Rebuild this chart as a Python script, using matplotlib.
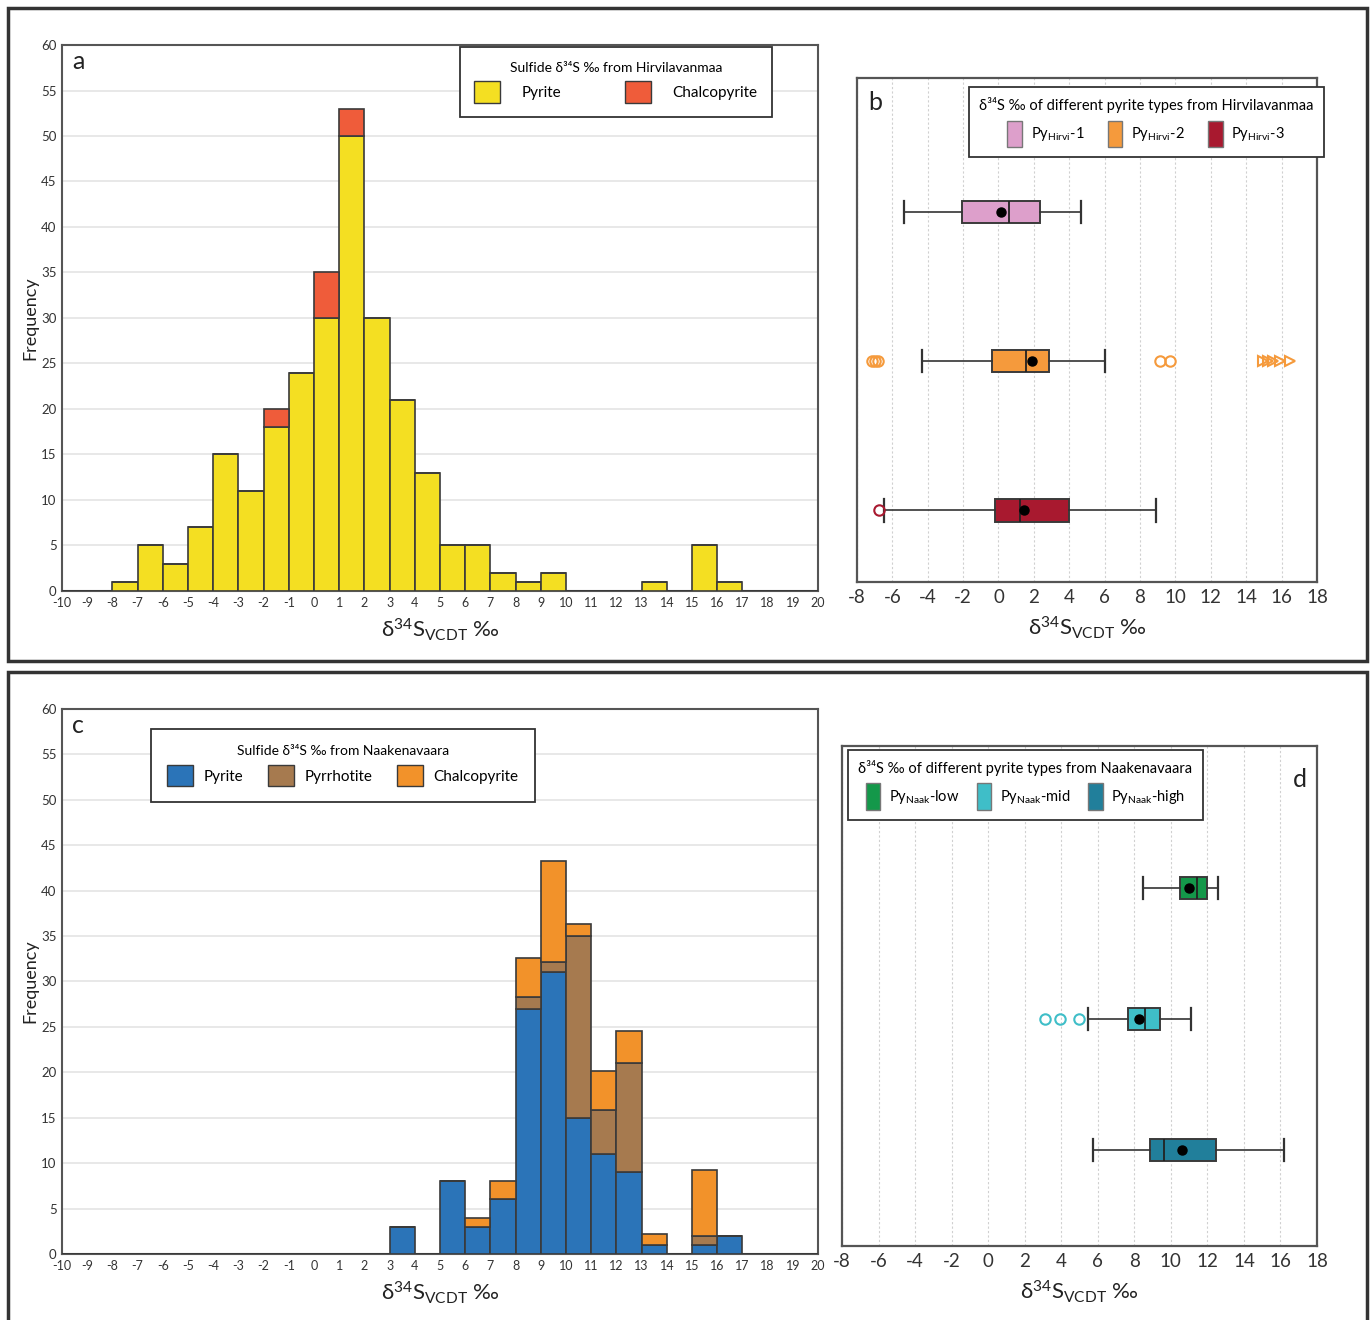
import numpy as np
import matplotlib
matplotlib.use("Agg")
import matplotlib.pyplot as plt
from matplotlib.patches import Patch, Rectangle

plt.rcParams['font.family'] = ['Lato', 'DejaVu Sans']
plt.rcParams['axes.unicode_minus'] = False
plt.rcParams['mathtext.fontset'] = 'custom'
plt.rcParams['mathtext.rm'] = 'Lato'
plt.rcParams['mathtext.it'] = 'Lato:italic'

# ---- histogram data (bin left edges, 1 permil bins) ----
bins = np.arange(-10, 20)

# Hirvilavanmaa (panel a)
pyrite_a = [0, 0, 1, 5, 3, 7, 15, 11, 18, 24, 30, 50, 30, 21, 13, 5, 5, 2, 1, 2,
            0, 0, 0, 1, 0, 5, 1, 0, 0, 0]
chalco_a = [0, 0, 0, 0, 0, 0, 0, 0, 2, 0, 5, 3, 0, 0, 0, 0, 0, 0, 0, 0,
            0, 0, 0, 0, 0, 0, 0, 0, 0, 0]

# Naakenavaara (panel c)
pyrite_c = [0, 0, 0, 0, 0, 0, 0, 0, 0, 0, 0, 0, 0, 3, 0, 8, 3, 6, 27, 31,
            15, 11, 9, 1, 0, 1, 2, 0, 0, 0]
pyrrh_c = [0, 0, 0, 0, 0, 0, 0, 0, 0, 0, 0, 0, 0, 0, 0, 0, 0, 0, 1.3, 1.2,
           20, 4.9, 12, 0, 0, 1, 0, 0, 0, 0]
chalco_c = [0, 0, 0, 0, 0, 0, 0, 0, 0, 0, 0, 0, 0, 0, 0, 0, 1, 2, 4.3, 11.1,
            1.3, 4.3, 3.5, 1.2, 0, 7.3, 0, 0, 0, 0]

# ---- box plot stats (whislo, q1, med, q3, whishi, mean) ----
hirvi_names = ['Py$_{\\mathregular{Hirvi}}$-1', 'Py$_{\\mathregular{Hirvi}}$-2', 'Py$_{\\mathregular{Hirvi}}$-3']
hirvi_stats = [
    [-5.33, -2.07, 0.6, 2.34, 4.66, 0.15],
    [-4.34, -0.35, 1.55, 2.83, 6.01, 1.87],
    [-6.47, -0.2, 1.2, 4.0, 8.92, 1.46],
]
hirvi_fliers = [[], [-7.17, -6.98, -6.79, 9.12, 9.72], [-6.73]]
hirvi2_far = [14.96, 15.25, 15.53, 15.9, 16.46]

naak_names = ['Py$_{\\mathregular{Naak}}$-low', 'Py$_{\\mathregular{Naak}}$-mid', 'Py$_{\\mathregular{Naak}}$-high']
naak_stats = [
    [8.47, 10.49, 11.42, 11.97, 12.57, 10.99],
    [5.47, 7.68, 8.59, 9.43, 11.11, 8.25],
    [5.73, 8.85, 9.6, 12.47, 16.19, 10.59],
]
naak_fliers = [[], [3.11, 3.92, 4.98], []]

hirvi_colors = ['#dd9fcb', '#f59a3c', '#a8192f']
naak_colors = ['#14984a', '#3fbec8', '#217f9b']
EDGE = '#3a3a3a'

fig = plt.figure(figsize=(13.7, 13.2), dpi=100)

# outer frames
fig.patches.append(Rectangle((0.0058, 0.4992), 0.992, 0.4947, transform=fig.transFigure,
                             fill=False, lw=2.5, ec='#333333'))
fig.patches.append(Rectangle((0.0058, -0.02), 0.992, 0.511, transform=fig.transFigure,
                             fill=False, lw=2.5, ec='#333333', clip_on=False))

XLABEL = 'δ$^{34}$S$_{\\mathregular{VCDT}}$ ‰'


def hist_axes(rect, layers, label, leg_title, leg_names, leg_anchor, leg_ncol,
              colspace, textpad, bpad):
    ax = fig.add_axes(rect)
    bottom = np.zeros(len(bins))
    for vals, col in layers:
        vals = np.array(vals, dtype=float)
        ax.bar(bins, vals, width=1, align='edge', bottom=bottom, color=col,
               edgecolor=EDGE, linewidth=1.2, zorder=3)
        bottom += vals
    ax.set_xlim(-10, 20)
    ax.set_ylim(0, 60)
    ax.set_yticks(np.arange(0, 61, 5))
    ax.set_xticks(np.arange(-10, 21, 1))
    ax.tick_params(length=0, labelsize=9.5, colors='#333333', pad=4)
    ax.tick_params(axis='x', labelsize=9)
    ax.grid(axis='y', color='#e4e4e4', lw=1.2, zorder=0)
    for s in ax.spines.values():
        s.set_color('#555555')
        s.set_linewidth(1.5)
    ax.set_ylabel('Frequency', fontsize=13, labelpad=2, color='#222222')
    ax.set_xlabel(XLABEL, fontsize=16, color='#222222', labelpad=6)
    ax.text(0.013, 0.99, label, transform=ax.transAxes, fontsize=18, va='top', color='#222222')
    handles = [Patch(fc=c, ec=EDGE, lw=1) for _, c in layers]
    leg = ax.legend(handles, leg_names, title=leg_title, loc='upper left',
                    bbox_to_anchor=leg_anchor, borderaxespad=0, ncol=leg_ncol,
                    fontsize=11, title_fontsize=10, fancybox=False,
                    edgecolor='#333333', handlelength=1.7, handleheight=1.8,
                    columnspacing=colspace, handletextpad=textpad, borderpad=bpad,
                    framealpha=1)
    leg.get_frame().set_linewidth(1.3)
    return ax


def box_axes(rect, stats, fliers, colors, names, label, label_pos, leg_title,
             leg_anchor, ylim, width, colspace):
    ax = fig.add_axes(rect)
    bx = []
    for st in stats:
        bx.append(dict(whislo=st[0], q1=st[1], med=st[2], q3=st[3], whishi=st[4],
                       mean=st[5], fliers=[]))
    pos = [3, 2, 1]
    art = ax.bxp(bx, positions=pos, widths=width, capwidths=width,
                 orientation='horizontal', patch_artist=True, showmeans=True,
                 boxprops=dict(ec=EDGE, lw=1.4),
                 medianprops=dict(color='#222222', lw=1.3),
                 whiskerprops=dict(color='#333333', lw=1.2),
                 capprops=dict(color='#333333', lw=1.6),
                 meanprops=dict(marker='o', mfc='black', mec='black', ms=6.5))
    for b, c in zip(art['boxes'], colors):
        b.set_facecolor(c)
    for fl, p, c in zip(fliers, pos, colors):
        if fl:
            ax.plot(fl, [p] * len(fl), ls='none', marker='o', mfc='none', mec=c,
                    mew=1.5, ms=7.5, zorder=4)
    ax.set_xlim(-8, 18)
    ax.set_ylim(*ylim)
    ax.set_yticks([])
    ax.set_xticks(np.arange(-8, 19, 2))
    ax.tick_params(length=0, labelsize=13.5, colors='#333333', pad=5)
    ax.grid(axis='x', color='#d0d0d0', lw=0.8, ls=(0, (2, 2)), zorder=0)
    ax.set_axisbelow(True)
    for s in ax.spines.values():
        s.set_color('#555555')
        s.set_linewidth(1.6)
    ax.set_xlabel(XLABEL, fontsize=16, color='#222222', labelpad=6)
    ax.text(label_pos[0], label_pos[1], label, transform=ax.transAxes, fontsize=18,
            va='top', color='#222222')
    handles = [Patch(fc=c, ec='#777777', lw=1) for c in colors]
    leg = ax.legend(handles, names, title=leg_title, loc='upper left',
                    bbox_to_anchor=leg_anchor, borderaxespad=0, ncol=3,
                    fontsize=10.5, title_fontsize=10.5, fancybox=False,
                    edgecolor='#333333', handlelength=1.0, handleheight=2.4,
                    columnspacing=colspace, handletextpad=0.6, borderpad=0.7,
                    framealpha=1)
    leg.get_frame().set_linewidth(1.3)
    return ax


ax_a = hist_axes([0.0453, 0.5523, 0.5518, 0.4136],
                 [(pyrite_a, '#f4df22'), (chalco_a, '#ef5c3a')], 'a',
                 'Sulfide δ³⁴S ‰ from Hirvilavanmaa', ['Pyrite', 'Chalcopyrite'],
                 (0.526, 0.996), 2, 4.2, 1.4, 0.95)

ax_c = hist_axes([0.0453, 0.05, 0.5518, 0.4129],
                 [(pyrite_c, '#2b74b8'), (pyrrh_c, '#a67a4f'), (chalco_c, '#f2922a')], 'c',
                 'Sulfide δ³⁴S ‰ from Naakenavaara', ['Pyrite', 'Pyrrhotite', 'Chalcopyrite'],
                 (0.118, 0.963), 3, 1.6, 0.7, 1.05)

ax_b = box_axes([0.6255, 0.5591, 0.3358, 0.3818], hirvi_stats, hirvi_fliers,
                hirvi_colors, hirvi_names, 'b', (0.025, 0.975),
                'δ³⁴S ‰ of different pyrite types from Hirvilavanmaa',
                (0.243, 0.982), (0.52, 3.9), 0.15, 1.6)
ax_b.plot(hirvi2_far, [2] * len(hirvi2_far), ls='none', marker='>', mfc='none',
          mec=hirvi_colors[1], mew=1.5, ms=7, zorder=4)

ax_d = box_axes([0.6146, 0.0561, 0.3467, 0.3788], naak_stats, naak_fliers,
                naak_colors, naak_names, 'd', (0.95, 0.955),
                'δ³⁴S ‰ of different pyrite types from Naakenavaara',
                (0.013, 0.992), (0.27, 4.08), 0.17, 1.2)

fig.savefig('out.png', dpi=100)
